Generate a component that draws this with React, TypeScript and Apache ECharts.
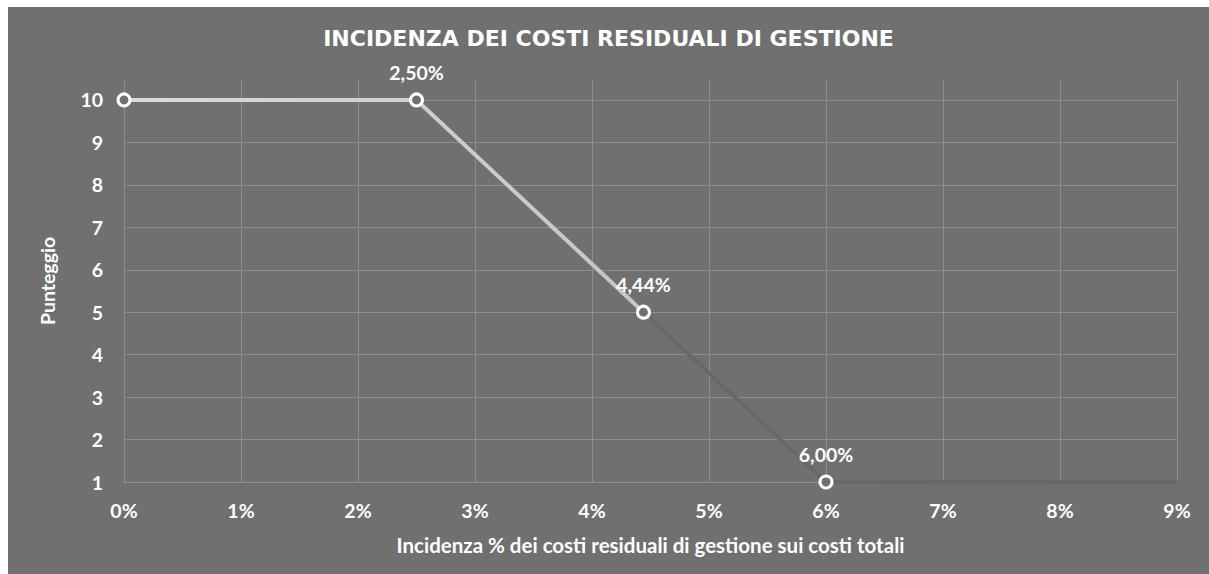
import React, { useEffect, useRef } from "react";
import * as echarts from "echarts";

const xValues = [0, 2.5, 4.44, 6, 9];
const yValues = [10, 10, 5, 1, 1];
const labelShown = [false, true, true, true, false];
const markerShown = [true, true, true, true, false];
const xTicks = [0, 1, 2, 3, 4, 5, 6, 7, 8, 9];
const yTicks = [1, 2, 3, 4, 5, 6, 7, 8, 9, 10];

const FONT = "Lato, 'Open Sans', sans-serif";
const TITLE_FONT = "'DejaVu Sans', sans-serif";

export default function App() {
  const ref = useRef<HTMLDivElement>(null);
  useEffect(() => {
    if (!ref.current) return;
    const chart = echarts.init(ref.current, null, { renderer: "svg" });
    const data = xValues.map((x, i) => ({
      value: [x, yValues[i]],
      symbolSize: markerShown[i] ? 12 : 0,
      label: { show: labelShown[i] },
    }));
    chart.setOption({
      animation: false,
      backgroundColor: "#707070",
      textStyle: { fontFamily: FONT },
      title: {
        text: "INCIDENZA DEI COSTI RESIDUALI DI GESTIONE",
        left: "center",
        top: 15,
        textStyle: { color: "#ffffff", fontSize: 22, fontWeight: "bold", fontFamily: TITLE_FONT },
      },
      grid: { left: 116, right: 32, top: 73, bottom: 92 },
      xAxis: {
        type: "value",
        min: xTicks[0],
        max: xTicks[xTicks.length - 1],
        interval: 1,
        name: "Incidenza % dei costi residuali di gestione sui costi totali",
        nameLocation: "middle",
        nameGap: 52,
        nameTextStyle: { color: "#ffffff", fontSize: 20.5, fontWeight: "bold", fontFamily: FONT },
        axisLine: { show: false },
        axisTick: { show: false },
        axisLabel: {
          color: "#ffffff",
          fontSize: 19.5,
          fontWeight: "bold",
          margin: 18,
          formatter: "{value}%",
        },
        splitLine: { show: true, lineStyle: { color: "#8e8e8e", width: 1 } },
      },
      yAxis: {
        type: "value",
        min: yTicks[0],
        max: 10.47,
        interval: 1,
        name: "Punteggio",
        nameLocation: "middle",
        nameGap: 67,
        nameTextStyle: { color: "#ffffff", fontSize: 19.5, fontWeight: "bold", fontFamily: FONT },
        axisLine: { show: false },
        axisTick: { show: false },
        axisLabel: {
          color: "#ffffff",
          fontSize: 19.5,
          fontWeight: "bold",
          margin: 21,
          showMaxLabel: false,
          formatter: (v: number) => (Number.isInteger(v) ? String(v) : ""),
        },
        splitLine: { show: true, showMaxLine: false, lineStyle: { color: "#8e8e8e", width: 1 } },
      },
      series: [
        {
          type: "line",
          data,
          symbol: "circle",
          showAllSymbol: true,
          itemStyle: { color: "#707070", borderColor: "#ffffff", borderWidth: 3 },
          lineStyle: {
            width: 4,
            color: new echarts.graphic.LinearGradient(1, 0, 0, 0, [
              { offset: 0, color: "#666666" },
              { offset: 0.5, color: "#686868" },
              { offset: 0.506, color: "#c6c6c6" },
              { offset: 1, color: "#dadada" },
            ]),
          },
          label: {
            position: "top",
            distance: 10,
            color: "#ffffff",
            fontSize: 19.5,
            fontWeight: "bold",
            fontFamily: FONT,
            formatter: (p: any) => p.value[0].toFixed(2).replace(".", ",") + "%",
          },
          z: 3,
        },
      ],
    });
    return () => chart.dispose();
  }, []);
  return (
    <div
      ref={ref}
      style={{ position: "absolute", left: 8, top: 7, width: 1201, height: 567 }}
    />
  );
}
